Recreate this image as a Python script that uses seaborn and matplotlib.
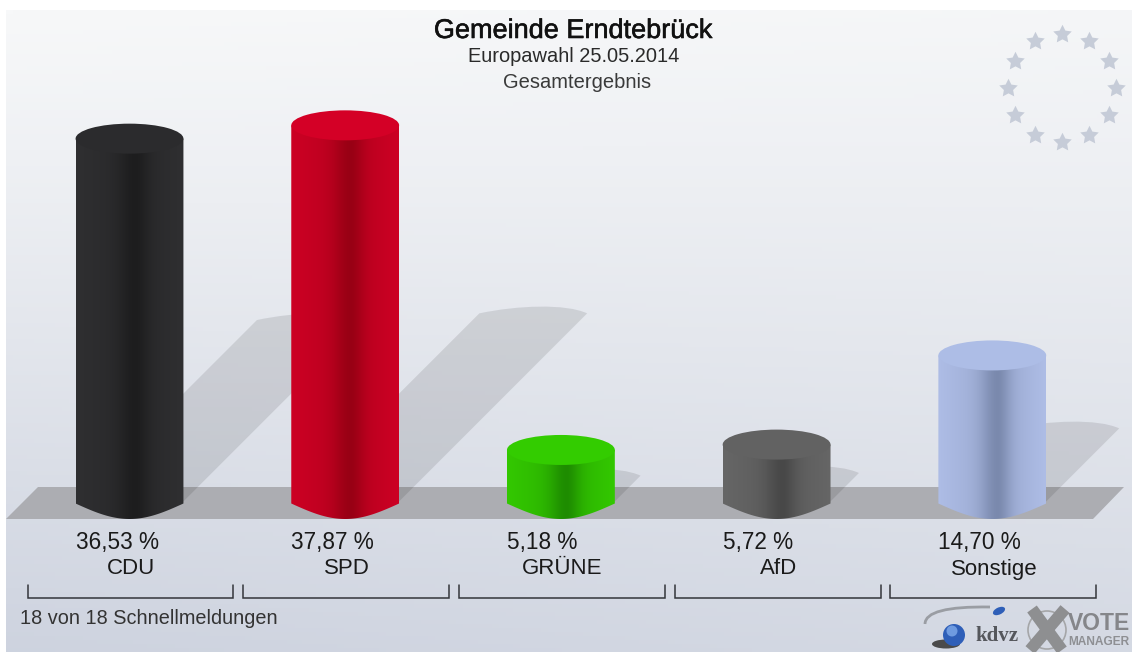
import numpy as np
import pandas as pd
import matplotlib
matplotlib.use('Agg')
import matplotlib.pyplot as plt
import matplotlib.patheffects as pe
from matplotlib.patches import Ellipse, PathPatch, Polygon, Circle
from matplotlib.path import Path
from matplotlib.colors import to_rgb
from matplotlib.transforms import Affine2D
import seaborn as sns

parties = ['CDU', 'SPD', 'GRÜNE', 'AfD', 'Sonstige']
values = [36.53, 37.87, 5.18, 5.72, 14.70]
value_labels = ['36,53 %', '37,87 %', '5,18 %', '5,72 %', '14,70 %']
edge_colors = ['#2f2f31', '#cc0024', '#33c800', '#666666', '#aebde6']
center_colors = ['#1d1d1e', '#980014', '#1e8c00', '#484848', '#7a89ad']
cap_colors = ['#2b2b2d', '#d40026', '#33cc00', '#626262', '#adbde6']
title = 'Gemeinde Erndtebrück'
subtitle = 'Europawahl 25.05.2014'
subtitle2 = 'Gesamtergebnis'
footer = '18 von 18 Schnellmeldungen'

W, H = 1132, 652
SPACING = 215.7    # px between bars
FIRST_X = 129.5
BASE_Y = 501.4
PX_PER_UNIT = 9.93

sns.set_theme(style='white')
plt.rcParams['font.family'] = ['Liberation Sans', 'DejaVu Sans']

df = pd.DataFrame({'party': parties, 'value': values})

fig = plt.figure(figsize=(W / 100, H / 100), dpi=100)
ax = fig.add_axes([0, 0, 1, 1])
xlim = (-FIRST_X / SPACING, (W - FIRST_X) / SPACING)
ylim = ((BASE_Y - H) / PX_PER_UNIT, BASE_Y / PX_PER_UNIT)

# pixel coordinates of the picture, y going down
pix = Affine2D().scale(1, -1).translate(0, H)

sns.barplot(data=df, x='party', y='value', hue='party', palette=edge_colors,
            width=0.5, legend=False, ax=ax, zorder=3)

# background
yy, xx = np.mgrid[0:1:160j, 0:1:160j]
shade = 0.72 * yy ** 1.1 + 0.14 * (1 - xx) * yy + 0.05 * xx * (1 - yy)
top = np.array([247, 248, 249]) / 255
bottom = np.array([199, 205, 219]) / 255
bg = top + (bottom - top) * shade[..., None]
ax.imshow(bg, extent=(6, W, H, 10), transform=pix, aspect='auto', zorder=0)

# floor
ax.add_patch(Polygon([(6, 519), (38, 487), (1124, 487), (1093, 519)], closed=True,
                     fc='#acadb2', ec='none', transform=pix, zorder=1))

x_unit = 1 / SPACING
y_unit = 1 / PX_PER_UNIT
for bar, edge, center, cap in zip(ax.patches, edge_colors, center_colors, cap_colors):
    x0 = bar.get_x()
    w = bar.get_width()
    h = bar.get_height()
    cx = x0 + w / 2

    # shadow falling back to the right at 45 degrees
    s_px = h * PX_PER_UNIT * 0.5
    dx, dy = s_px * x_unit, s_px * y_unit
    verts = [(x0, 0), (x0 + dx, dy),
             (x0 + dx + 0.35 * w, dy + 8 * y_unit), (x0 + dx + 0.8 * w, dy + 10 * y_unit),
             (x0 + w + dx, dy), (x0 + w, 0), (x0, 0)]
    codes = [Path.MOVETO, Path.LINETO, Path.CURVE4, Path.CURVE4, Path.CURVE4, Path.LINETO, Path.CLOSEPOLY]
    ax.add_patch(PathPatch(Path(verts, codes), fc='black', ec='none', alpha=0.1, zorder=2))

    # body with the shading left to right
    t = np.linspace(0, 1, 256)
    d = np.where(t < 0.55, (0.55 - t) / 0.55, (t - 0.55) / 0.45)
    mix = 0.6 * np.exp(-(d / 0.28) ** 2) + 0.4 * (1 - d)
    grad = np.array(to_rgb(edge)) + (np.array(to_rgb(center)) - np.array(to_rgb(edge))) * mix[..., None]
    grad = grad[None, :, :]
    side_end = 2.1 * y_unit
    drop = 15.5 * y_unit
    s = np.linspace(0, 1, 60)
    bottom_edge = [(x0 + w * a, -side_end - drop * np.sin(np.pi * a)) for a in s]
    outline = [(x0, h)] + bottom_edge + [(x0 + w, h)]
    im = ax.imshow(grad, extent=(x0, x0 + w, -side_end - drop, h), aspect='auto', zorder=4)
    im.set_clip_path(Polygon(outline, closed=True, transform=ax.transData))
    ax.add_patch(Ellipse((cx, h), w, 30 * y_unit, fc=cap, ec='none', zorder=5))

    bar.set_visible(False)

for i, (party, label) in enumerate(zip(parties, value_labels)):
    bar = ax.patches[i]
    ax.text(bar.get_x(), (BASE_Y - 542) / PX_PER_UNIT, label, ha='left', va='center',
            fontsize=16.3, color='#1a1a1a', zorder=6)
    ax.text(i + 1.5 / SPACING, (BASE_Y - 569) / PX_PER_UNIT, party, ha='center', va='center',
            fontsize=16, color='#1a1a1a', zorder=6)

# brackets under the labels
for left, right in [(28, 233), (243, 449), (459, 665), (675, 881), (890, 1096)]:
    ax.plot([left, left, right, right], [585, 598, 598, 585], color='#33353a', lw=1.1,
            transform=pix, zorder=6, solid_joinstyle='miter')

ax.text(573.5, 31, title, ha='center', va='center', fontsize=19.5, color='#111111', transform=pix, zorder=6,
        path_effects=[pe.withStroke(linewidth=0.4, foreground='#111111')])
ax.text(574, 57, subtitle, ha='center', va='center', fontsize=14.4, color='#2a2a2a', transform=pix, zorder=6)
ax.text(577, 83, subtitle2, ha='center', va='center', fontsize=14.5, color='#3a3a3a', transform=pix, zorder=6)
ax.text(20, 618, footer, ha='left', va='center', fontsize=14.3, color='#333333', transform=pix, zorder=6)

# ring of stars
angles = np.deg2rad(np.arange(0, 360, 30))
star = Path.unit_regular_star(5, innerCircle=0.5)
ax.plot(1062 + 54 * np.cos(angles), 88 + 54 * np.sin(angles), ls='none', marker=star, ms=14,
        color='#c6ccd8', mec='none', transform=pix, zorder=1)

# logos
swoosh = Path([(925, 624), (925, 606), (990, 607)], [Path.MOVETO, Path.CURVE3, Path.CURVE3])
ax.add_patch(PathPatch(swoosh, fc='none', ec='#9a9da3', lw=2, transform=pix, zorder=6))
ax.add_patch(Ellipse((946, 644), 28, 9, fc='#4a4a4a', ec='none', transform=pix, zorder=6))
ax.add_patch(Circle((954, 635), 11, fc='#2f5fb8', ec='none', transform=pix, zorder=7))
ax.add_patch(Circle((952, 631), 5.5, fc='#6f9be0', ec='none', transform=pix, zorder=7))
ax.add_patch(Ellipse((999, 611), 13, 7, angle=-25, fc='#2f5fb8', ec='none', transform=pix, zorder=7))
ax.text(975, 636, 'kdvz', ha='left', va='center', fontsize=15, fontweight='bold', family='Liberation Serif',
        color='#55575c', transform=pix, zorder=6)
ax.add_patch(Circle((1047, 630), 19, fc='none', ec='#a5a6a8', lw=1.2, transform=pix, zorder=6))
ax.plot([1032, 1062], [609, 650], color='#8e8f91', lw=8.5, transform=pix, zorder=6, solid_capstyle='butt')
ax.plot([1065, 1030], [609, 650], color='#8e8f91', lw=8.5, transform=pix, zorder=6, solid_capstyle='butt')
ax.text(1068, 624, 'VOTE', ha='left', va='center', fontsize=16.5, fontweight='bold',
        color='#85868a', transform=pix, zorder=6)
ax.text(1068, 642, 'MANAGER', ha='left', va='center', fontsize=8.6, fontweight='bold',
        color='#8e8f93', transform=pix, zorder=6)

ax.set_xlim(xlim)
ax.set_ylim(ylim)
ax.set_axis_off()
fig.patch.set_facecolor('white')
fig.savefig('out.png', dpi=100)
